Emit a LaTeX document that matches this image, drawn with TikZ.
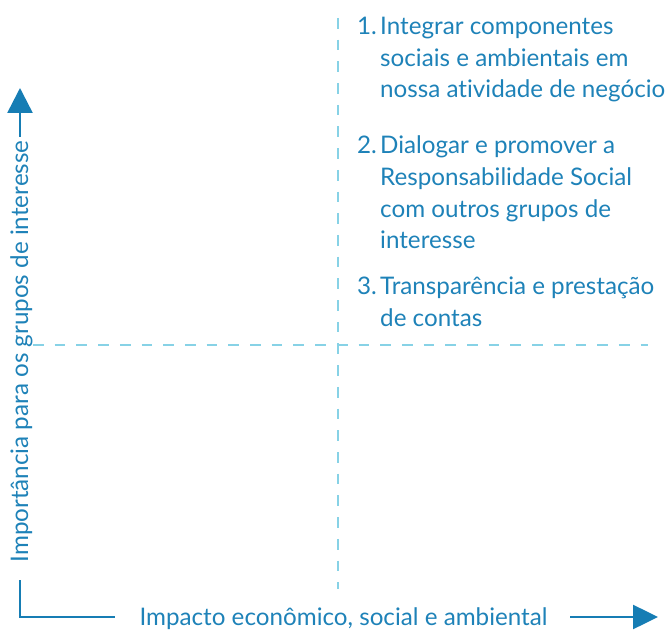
\documentclass[tikz,border=0pt]{standalone}
\usepackage{fontspec}
\setmainfont[Ligatures=NoCommon]{Lato}
\usetikzlibrary{arrows.meta}
\definecolor{txtblue}{RGB}{30,130,184}
\definecolor{axisblue}{RGB}{22,125,180}
\definecolor{dashcyan}{RGB}{135,210,230}
\tikzset{
  lbl/.style={inner sep=0pt, text=txtblue, font=\fontsize{24.2}{28}\selectfont},
  itemline/.style={lbl, anchor=base west},
  axisline/.style={draw=axisblue, line width=2.5pt},
  gridline/.style={draw=dashcyan, line width=2pt, dash pattern=on 10.7pt off 11pt},
  bigtip/.style={-{Triangle[length=25pt,width=25pt]}}
}
\begin{document}
\begin{tikzpicture}[x=1pt,y=1pt]
\useasboundingbox (0,0) rectangle (668,629);
% dashed quadrant lines
\coordinate (vtop) at (338,611);
\coordinate (vbot) at (338,40);
\coordinate (hleft) at (33,283.5);
\coordinate (hright) at (648,283.5);
\draw[gridline] (vtop) -- (vbot);
\draw[gridline] (hleft) -- (hright);
% vertical axis
\coordinate (ybase) at (20,492);
\coordinate (ytip) at (20,541);
\draw[axisline, bigtip, fill=axisblue] (ybase) -- (ytip);
\coordinate (lstart) at (20,49);
\coordinate (corner) at (20,12);
\coordinate (lend) at (115,12);
\draw[axisline] (lstart) -- (corner) -- (lend);
% horizontal arrow
\coordinate (xbase) at (570,12);
\coordinate (xtip) at (658,12);
\draw[axisline, fill=axisblue, -{Triangle[length=25pt,width=24pt]}] (xbase) -- (xtip);
% axis labels
\node[lbl, rotate=90, anchor=base] (ylabel) at (28,277.5) {Importância para os grupos de interesse};
\node[lbl, anchor=base] (xlabel) at (343.5,4) {Impacto econômico, social e ambiental};
% items
\node[itemline] (n1) at (357,594) {1.};
\node[itemline] (t1a) at (380,594) {Integrar componentes};
\node[itemline] (t1b) at (380,562.5) {sociais e ambientais em};
\node[itemline] (t1c) at (380,531) {nossa atividade de negócio};
\node[itemline] (n2) at (357,475) {2.};
\node[itemline] (t2a) at (380,475) {Dialogar e promover a};
\node[itemline] (t2b) at (380,443) {Responsabilidade Social};
\node[itemline] (t2c) at (380,411) {com outros grupos de};
\node[itemline] (t2d) at (380,380) {interesse};
\node[itemline] (n3) at (357,334) {3.};
\node[itemline] (t3a) at (380,334) {Transparência e prestação};
\node[itemline] (t3b) at (380,302) {de contas};
\end{tikzpicture}
\end{document}
